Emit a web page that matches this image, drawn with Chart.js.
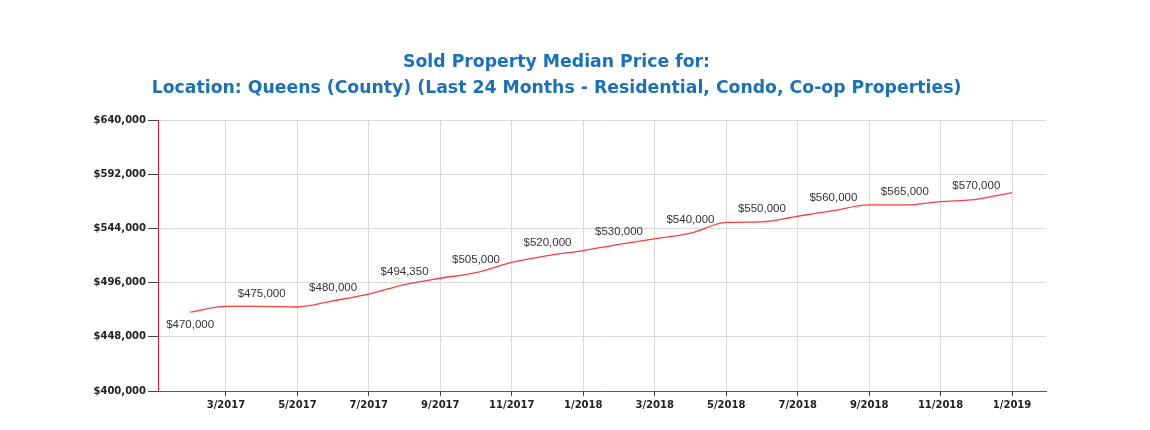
<!DOCTYPE html>
<html>
<head>
<meta charset="utf-8">
<script src="https://cdn.jsdelivr.net/npm/chart.js@4"></script>
<style>
html,body{margin:0;padding:0;background:#fff;}
#wrap{width:1150px;height:430px;}
</style>
</head>
<body>
<div id="wrap"><canvas id="c" width="1150" height="430"></canvas></div>
<script>
// ---- data ----
const titleLines = [
  "Sold Property Median Price for:",
  "Location: Queens (County) (Last 24 Months - Residential, Condo, Co-op Properties)"
];
const months = [
  "2/2017","3/2017","4/2017","5/2017","6/2017","7/2017","8/2017","9/2017","10/2017","11/2017","12/2017",
  "1/2018","2/2018","3/2018","4/2018","5/2018","6/2018","7/2018","8/2018","9/2018","10/2018","11/2018","12/2018",
  "1/2019"
];
const medianPrices = [
  470000, 475000, 475000, 474500, 480000, 486000, 494350, 500000, 505000, 514000, 520000,
  524500, 530000, 535000, 540000, 549500, 550000, 555000, 560000, 565000, 565000, 568000, 570000,
  576000
];
const xTickLabels = ["3/2017","5/2017","7/2017","9/2017","11/2017","1/2018","3/2018","5/2018","7/2018","9/2018","11/2018","1/2019"];
const yMin = 400000, yMax = 640000, yStep = 48000;

// month position (1 = first month in the list)
const monthPos = (label) => months.indexOf(label) + 1;
const xTickValues = xTickLabels.map(monthPos);
const fmtMoney = (v) => "$" + Number(v).toLocaleString("en-US");

const pointLabels = {
  id: "pointLabels",
  afterDatasetsDraw(chart) {
    const ctx = chart.ctx;
    const meta = chart.getDatasetMeta(0);
    ctx.save();
    ctx.font = '11.5px "Liberation Sans", Arial, sans-serif';
    ctx.fillStyle = "#333333";
    ctx.textAlign = "center";
    ctx.textBaseline = "middle";
    meta.data.forEach((pt, i) => {
      if (i % 2 !== 0) return;
      const dy = i === 0 ? 13 : -13;
      ctx.fillText(fmtMoney(medianPrices[i]), pt.x, pt.y + dy);
    });
    ctx.restore();
  }
};

new Chart(document.getElementById("c"), {
  type: "line",
  data: {
    datasets: [{
      label: "Median Price",
      data: medianPrices.map((v, i) => ({ x: monthPos(months[i]), y: v })),
      borderColor: "#ff3b3b",
      borderWidth: 1.3,
      pointRadius: 0,
      pointHoverRadius: 0,
      fill: false,
      cubicInterpolationMode: "monotone"
    }]
  },
  options: {
    responsive: false,
    animation: false,
    devicePixelRatio: 1,
    layout: { padding: { left: 67, right: 104, top: 0, bottom: 0 } },
    plugins: {
      legend: { display: false },
      tooltip: { enabled: false },
      title: {
        display: true,
        text: titleLines,
        color: "#1a70bb",
        font: { family: '"DejaVu Sans", Verdana, sans-serif', size: 17.3, weight: "bold", lineHeight: 1.5 },
        padding: { top: 50, bottom: 18.5 }
      }
    },
    scales: {
      x: {
        type: "linear",
        min: 0.1,
        max: 24.95,
        afterBuildTicks: (scale) => { scale.ticks = xTickValues.map(v => ({ value: v })); },
        afterFit: (scale) => { scale.height = 39; },
        grid: { color: "#d9d9d9", tickColor: "#444", tickLength: 5, lineWidth: 1 },
        border: { color: "#e3173e", width: 1 },
        ticks: {
          autoSkip: false,
          maxRotation: 0,
          padding: 3,
          color: "#222",
          font: { family: '"DejaVu Sans", Verdana, sans-serif', size: 10, weight: "bold" },
          callback: (value) => {
            const k = xTickValues.indexOf(value);
            return k >= 0 ? xTickLabels[k] : "";
          }
        }
      },
      y: {
        min: yMin,
        max: yMax,
        afterFit: (scale) => { scale.width = 91; },
        grid: { color: "#d9d9d9", tickColor: "#444", tickLength: 10, lineWidth: 1 },
        border: { color: "#e3173e", width: 1 },
        ticks: {
          stepSize: yStep,
          padding: 2,
          color: "#222",
          font: { family: '"DejaVu Sans", Verdana, sans-serif', size: 10, weight: "bold" },
          callback: (v) => fmtMoney(v)
        }
      }
    }
  },
  plugins: [pointLabels]
});
</script>
</body>
</html>
